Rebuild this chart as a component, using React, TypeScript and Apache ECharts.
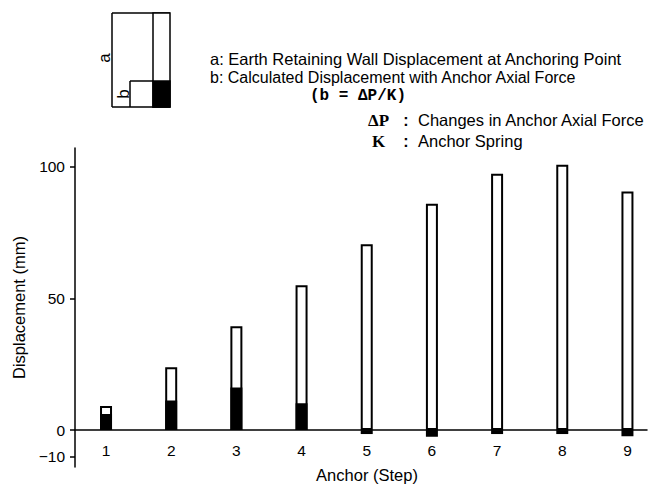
import React, { useEffect, useRef } from "react";
import * as echarts from "echarts";

const anchors = [1, 2, 3, 4, 5, 6, 7, 8, 9];
const wallDisplacement = [9.1, 23.8, 39.4, 54.9, 70.5, 85.9, 97.2, 100.6, 90.5];
const calcDisplacement = [6.1, 11.2, 16.2, 10.2, -1.5, -2.5, -1.5, -1.5, -2.3];
const yTicks = [-10, 0, 50, 100];

const FONT = "Liberation Sans, Arial, Helvetica, sans-serif";
const Y_MIN = -14;
const Y_MAX = 107;
const GRID_TOP = 148;
const GRID_BOTTOM = 19;
const CHART_H = 486;

export default function App() {
  const ref = useRef<HTMLDivElement>(null);
  useEffect(() => {
    if (!ref.current) return;
    const chart = echarts.init(ref.current, undefined, { renderer: "svg" });
    const black = "#000";
    const plotH = CHART_H - GRID_TOP - GRID_BOTTOM;
    const zeroOffset = (-Y_MIN / (Y_MAX - Y_MIN)) * plotH;
    chart.setOption({
      animation: false,
      backgroundColor: "#fff",
      grid: { left: 75, right: 1, top: GRID_TOP, bottom: GRID_BOTTOM, outerBoundsMode: "none", containLabel: false },
      xAxis: {
        type: "value",
        position: "bottom",
        offset: -zeroOffset,
        min: 0.524,
        max: 9.3,
        name: "Anchor (Step)",
        nameLocation: "middle",
        nameGap: 36,
        nameTextStyle: { color: black, fontSize: 16.5, fontFamily: FONT, padding: [0, 0, 0, 12] },
        axisLine: { onZero: false, lineStyle: { color: black, width: 1.5 } },
        axisTick: { show: false },
        splitLine: { show: false },
        axisLabel: {
          customValues: anchors,
          color: black,
          fontSize: 15.5,
          fontFamily: FONT,
          margin: 12,
          formatter: (v: number) => String(v),
        },
      },
      yAxis: {
        type: "value",
        min: Y_MIN,
        max: Y_MAX,
        name: "Displacement (mm)",
        nameLocation: "middle",
        nameGap: 46,
        nameTextStyle: { color: black, fontSize: 16.5, fontFamily: FONT },
        axisLine: { show: true, onZero: false, lineStyle: { color: black, width: 1.5 } },
        axisTick: { show: true, customValues: yTicks, length: 5, lineStyle: { color: black, width: 1.5 } },
        splitLine: { show: false },
        axisLabel: {
          customValues: yTicks,
          color: black,
          fontSize: 15.5,
          fontFamily: FONT,
          margin: 10,
          formatter: (v: number) => (v < 0 ? "\u2212" + Math.abs(v) : String(v)),
        },
      },
      series: [
        {
          type: "bar",
          name: "a",
          barWidth: 12,
          barGap: "-100%",
          data: anchors.map((x, i) => [x, wallDisplacement[i]]),
          itemStyle: { color: "#fff", borderColor: black, borderWidth: 2 },
          z: 2,
        },
        {
          type: "bar",
          name: "b",
          barWidth: 12,
          barGap: "-100%",
          data: anchors.map((x, i) => [x, calcDisplacement[i]]),
          itemStyle: { color: black, borderColor: black, borderWidth: 2 },
          z: 3,
        },
      ],
      graphic: [
        { type: "line", shape: { x1: 112, y1: 13, x2: 112, y2: 107 }, style: { stroke: black, lineWidth: 1.5 } },
        { type: "line", shape: { x1: 112, y1: 13, x2: 170, y2: 13 }, style: { stroke: black, lineWidth: 1.5 } },
        { type: "line", shape: { x1: 112, y1: 107, x2: 170, y2: 107 }, style: { stroke: black, lineWidth: 1.5 } },
        { type: "line", shape: { x1: 130, y1: 81, x2: 153, y2: 81 }, style: { stroke: black, lineWidth: 1.5 } },
        { type: "line", shape: { x1: 130, y1: 81, x2: 130, y2: 107 }, style: { stroke: black, lineWidth: 1.5 } },
        { type: "rect", shape: { x: 153, y: 13, width: 17, height: 94 }, style: { fill: "#fff", stroke: black, lineWidth: 1.5 } },
        { type: "rect", shape: { x: 153, y: 81, width: 17, height: 26 }, style: { fill: black, stroke: black, lineWidth: 1.5 } },
        {
          type: "text", x: 104, y: 58, rotation: Math.PI / 2,
          style: { text: "a", fill: black, font: `17px ${FONT}`, align: "center", verticalAlign: "middle" },
        },
        {
          type: "text", x: 123, y: 94, rotation: Math.PI / 2,
          style: { text: "b", fill: black, font: `17px ${FONT}`, align: "center", verticalAlign: "middle" },
        },
        {
          type: "text", x: 210, y: 59,
          style: { text: "a: Earth Retaining Wall Displacement at Anchoring Point", fill: black, font: `16.5px ${FONT}`, verticalAlign: "middle" },
        },
        {
          type: "text", x: 210, y: 77,
          style: { text: "b: Calculated Displacement with Anchor Axial Force", fill: black, font: `16px ${FONT}`, verticalAlign: "middle" },
        },
        {
          type: "text", x: 310, y: 96,
          style: { text: "(b = \u0394P/K)", fill: black, font: `bold 16px "Liberation Mono", monospace`, verticalAlign: "middle" },
        },
        {
          type: "text", x: 368, y: 120,
          style: { text: "\u0394P", fill: black, font: `bold 17px "Liberation Serif", serif`, verticalAlign: "middle" },
        },
        {
          type: "text", x: 406, y: 120,
          style: { text: ":", fill: black, font: `bold 16px ${FONT}`, align: "center", verticalAlign: "middle" },
        },
        {
          type: "text", x: 418, y: 120,
          style: { text: "Changes in Anchor Axial Force", fill: black, font: `16.5px ${FONT}`, verticalAlign: "middle" },
        },
        {
          type: "text", x: 372, y: 141,
          style: { text: "K", fill: black, font: `bold 17px "Liberation Serif", serif`, verticalAlign: "middle" },
        },
        {
          type: "text", x: 406, y: 141,
          style: { text: ":", fill: black, font: `bold 16px ${FONT}`, align: "center", verticalAlign: "middle" },
        },
        {
          type: "text", x: 418, y: 141,
          style: { text: "Anchor Spring", fill: black, font: `16.5px ${FONT}`, verticalAlign: "middle" },
        },
      ],
    });
    return () => chart.dispose();
  }, []);
  return (
    <div
      ref={ref}
      style={{ position: "fixed", left: 0, top: 0, width: 648, height: 486 }}
    />
  );
}
